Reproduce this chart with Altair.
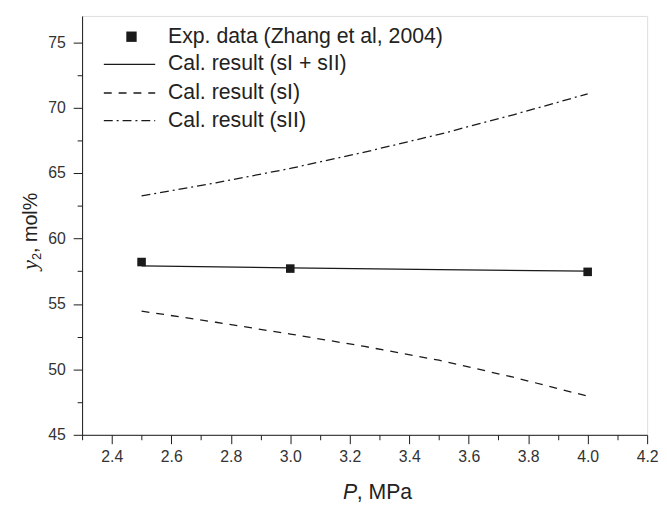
import altair as alt
import pandas as pd

# ---- data ----
exp_p = [2.5, 3.0, 4.0]
exp_y = [58.2, 57.7, 57.45]

calc_p = [2.5, 3.0, 3.5, 4.0]
calc_y = [57.9, 57.75, 57.62, 57.5]

si_p = [2.5, 2.75, 3.0, 3.25, 3.5, 3.75, 4.0]
si_y = [54.45, 53.6, 52.7, 51.75, 50.7, 49.4, 47.95]

sii_p = [2.5, 2.75, 3.0, 3.25, 3.5, 3.75, 4.0]
sii_y = [63.25, 64.25, 65.35, 66.6, 67.95, 69.45, 71.05]

x_major = [2.4, 2.6, 2.8, 3.0, 3.2, 3.4, 3.6, 3.8, 4.0, 4.2]
x_minor = [2.3, 2.5, 2.7, 2.9, 3.1, 3.3, 3.5, 3.7, 3.9, 4.1]
y_major = [45, 50, 55, 60, 65, 70, 75]
y_minor = [47.5, 52.5, 57.5, 62.5, 67.5, 72.5]

legend_labels = [
    "Exp. data (Zhang et al, 2004)",
    "Cal. result (sI + sII)",
    "Cal. result (sI)",
    "Cal. result (sII)",
]

W, H = 572, 424
FONT = "Liberation Sans"
INK = "#1a1a1a"

xs = alt.Scale(domain=[2.3, 4.2], nice=False, zero=False)
ys = alt.Scale(domain=[45, 77], nice=False, zero=False)

exp_df = pd.DataFrame({"P": exp_p, "y": exp_y})
calc_df = pd.DataFrame({"P": calc_p, "y": calc_y})
si_df = pd.DataFrame({"P": si_p, "y": si_y})
sii_df = pd.DataFrame({"P": sii_p, "y": sii_y})

major_x_axis = alt.Axis(values=x_major, format=".1f", tickSize=9, tickColor=INK,
                        domainColor=INK, labelFontSize=16, labelColor="#333",
                        labelFont=FONT, labelPadding=5, grid=False, title=None,
                        orient="bottom", labelFlush=False)
major_y_axis = alt.Axis(values=y_major, format="d", tickSize=9, tickColor=INK,
                        domainColor=INK, labelFontSize=16, labelColor="#333",
                        labelFont=FONT, labelPadding=8, grid=False, title=None,
                        orient="left")
minor_x_axis = alt.Axis(values=x_minor, tickSize=5, tickColor=INK, labels=False,
                        domain=False, grid=False, title=None, orient="bottom")
minor_y_axis = alt.Axis(values=y_minor, tickSize=5, tickColor=INK, labels=False,
                        domain=False, grid=False, title=None, orient="left")

line_calc = alt.Chart(calc_df).mark_line(color=INK, strokeWidth=1.3).encode(
    x=alt.X("P:Q", scale=xs, axis=major_x_axis),
    y=alt.Y("y:Q", scale=ys, axis=major_y_axis),
)

minor_layer = alt.Chart(calc_df).mark_point(opacity=0).encode(
    x=alt.X("P:Q", scale=xs, axis=minor_x_axis),
    y=alt.Y("y:Q", scale=ys, axis=minor_y_axis),
)

line_si = alt.Chart(si_df).mark_line(color=INK, strokeWidth=1.3, strokeDash=[8, 7]).encode(
    x=alt.X("P:Q", scale=xs, axis=None),
    y=alt.Y("y:Q", scale=ys, axis=None),
)

line_sii = alt.Chart(sii_df).mark_line(color=INK, strokeWidth=1.3, strokeDash=[9, 4, 2, 4]).encode(
    x=alt.X("P:Q", scale=xs, axis=None),
    y=alt.Y("y:Q", scale=ys, axis=None),
)

pts = alt.Chart(exp_df).mark_square(color=INK, size=75, opacity=1).encode(
    x=alt.X("P:Q", scale=xs, axis=None),
    y=alt.Y("y:Q", scale=ys, axis=None),
)

# ---- manual legend (inside plot, top-left) ----
one = pd.DataFrame({"k": [0]})
row_y = [21, 49, 78, 106]
legend_layers = []
for lbl, ry in zip(legend_labels, row_y):
    legend_layers.append(
        alt.Chart(one).mark_text(text=lbl, align="left", baseline="middle",
                                 font=FONT, fontSize=21.5, color="#222").encode(
            x=alt.value(87), y=alt.value(ry))
    )
legend_layers.append(
    alt.Chart(one).mark_square(color=INK, size=110, opacity=1).encode(
        x=alt.value(50), y=alt.value(row_y[0]))
)
for ry, dash in zip(row_y[1:], [None, [8, 7], [9, 4, 2, 4]]):
    kw = dict(color=INK, strokeWidth=1.3)
    if dash:
        kw["strokeDash"] = dash
    legend_layers.append(
        alt.Chart(one).mark_rule(**kw).encode(
            x=alt.value(22), x2=alt.value(74), y=alt.value(ry))
    )

# ---- axis titles ----
xt_p = alt.Chart(one).mark_text(text="P", align="left", baseline="alphabetic",
                                font=FONT, fontSize=21.5, fontStyle="italic", color="#222").encode(
    x=alt.value(264), y=alt.value(489))
xt_rest = alt.Chart(one).mark_text(text=", MPa", align="left", baseline="alphabetic",
                                   font=FONT, fontSize=21.5, color="#222").encode(
    x=alt.value(278), y=alt.value(489))

yt_y = alt.Chart(one).mark_text(text="y", align="left", baseline="alphabetic", angle=270,
                                font="Liberation Serif", fontSize=22, fontStyle="italic",
                                color="#222").encode(
    x=alt.value(-46), y=alt.value(257))
yt_2 = alt.Chart(one).mark_text(text="2", align="left", baseline="alphabetic", angle=270,
                                font=FONT, fontSize=13, color="#222").encode(
    x=alt.value(-42), y=alt.value(247))
yt_rest = alt.Chart(one).mark_text(text=", mol%", align="left", baseline="alphabetic", angle=270,
                                   font=FONT, fontSize=20, color="#222").encode(
    x=alt.value(-46), y=alt.value(240))

chart = alt.layer(
    line_calc, minor_layer, line_si, line_sii, pts,
    *legend_layers, xt_p, xt_rest, yt_y, yt_2, yt_rest
).resolve_axis(x="independent", y="independent").properties(
    width=W, height=H,
    autosize=alt.AutoSizeParams(type="none"),
    padding={"left": 75, "top": 5, "right": 12, "bottom": 68},
).configure_view(stroke=INK, strokeWidth=1.2).configure(background="white")

chart.save("out.html", embed_options={"renderer": "svg", "actions": False})
